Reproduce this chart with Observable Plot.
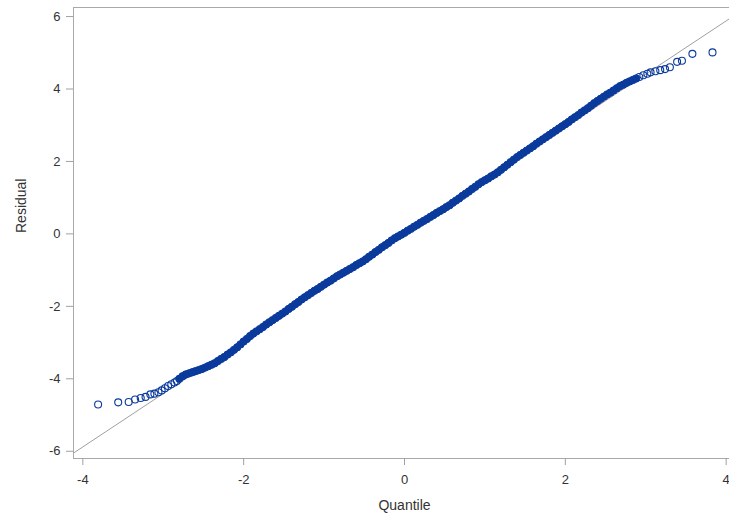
<!DOCTYPE html>
<html>
<head>
<meta charset="utf-8">
<script src="https://cdn.jsdelivr.net/npm/d3@7"></script>
<script src="https://cdn.jsdelivr.net/npm/@observablehq/plot@0.6"></script>
<style>
  html, body { margin: 0; padding: 0; background: #fff; overflow: hidden; }
  #chart { width: 729px; height: 517px; overflow: hidden; }
  #chart svg { max-width: none !important; }
</style>
</head>
<body>
<div id="chart"></div>
<script>
// Tick labels
const xTicks = [-4, -2, 0, 2, 4];
const yTicks = [-6, -4, -2, 0, 2, 4, 6];

// Dense central band of the Q-Q plot (normal quantile vs sorted residual)
const denseQuantile = [
  -2.80, -2.76, -2.72, -2.68, -2.64, -2.60, -2.56, -2.52, -2.48, -2.44,
  -2.40, -2.36, -2.32, -2.28, -2.24, -2.20, -2.16, -2.12, -2.08, -2.04,
  -2.00, -1.96, -1.92, -1.88, -1.84, -1.80, -1.76, -1.72, -1.68, -1.64,
  -1.60, -1.56, -1.52, -1.48, -1.44, -1.40, -1.36, -1.32, -1.28, -1.24,
  -1.20, -1.16, -1.12, -1.08, -1.04, -1.00, -0.96, -0.92, -0.88, -0.84,
  -0.80, -0.76, -0.72, -0.68, -0.64, -0.60, -0.56, -0.52, -0.48, -0.44,
  -0.40, -0.36, -0.32, -0.28, -0.24, -0.20, -0.16, -0.12, -0.08, -0.04,
   0.00,  0.04,  0.08,  0.12,  0.16,  0.20,  0.24,  0.28,  0.32,  0.36,
   0.40,  0.44,  0.48,  0.52,  0.56,  0.60,  0.64,  0.68,  0.72,  0.76,
   0.80,  0.84,  0.88,  0.92,  0.96,  1.00,  1.04,  1.08,  1.12,  1.16,
   1.20,  1.24,  1.28,  1.32,  1.36,  1.40,  1.44,  1.48,  1.52,  1.56,
   1.60,  1.64,  1.68,  1.72,  1.76,  1.80,  1.84,  1.88,  1.92,  1.96,
   2.00,  2.04,  2.08,  2.12,  2.16,  2.20,  2.24,  2.28,  2.32,  2.36,
   2.40,  2.44,  2.48,  2.52,  2.56,  2.60,  2.64,  2.68,  2.72,  2.76,
   2.80,  2.84,  2.88
];
const denseResidual = [
  -4.00, -3.93, -3.88, -3.85, -3.82, -3.79, -3.76, -3.73, -3.69, -3.65,
  -3.61, -3.57, -3.51, -3.45, -3.40, -3.33, -3.27, -3.20, -3.13, -3.05,
  -2.97, -2.90, -2.82, -2.75, -2.69, -2.63, -2.57, -2.50, -2.44, -2.38,
  -2.32, -2.26, -2.20, -2.14, -2.07, -2.01, -1.94, -1.88, -1.81, -1.75,
  -1.69, -1.63, -1.57, -1.52, -1.46, -1.40, -1.34, -1.29, -1.23, -1.17,
  -1.12, -1.07, -1.02, -0.97, -0.92, -0.86, -0.81, -0.76, -0.70, -0.63,
  -0.57, -0.50, -0.44, -0.37, -0.31, -0.25, -0.18, -0.12, -0.07, -0.02,
   0.03,  0.09,  0.14,  0.20,  0.25,  0.31,  0.36,  0.41,  0.47,  0.52,
   0.58,  0.63,  0.68,  0.74,  0.79,  0.86,  0.92,  0.98,  1.05,  1.11,
   1.17,  1.24,  1.30,  1.37,  1.43,  1.48,  1.53,  1.59,  1.64,  1.70,
   1.77,  1.84,  1.91,  1.98,  2.05,  2.12,  2.18,  2.24,  2.30,  2.36,
   2.42,  2.49,  2.55,  2.61,  2.67,  2.73,  2.79,  2.85,  2.91,  2.97,
   3.03,  3.09,  3.16,  3.22,  3.28,  3.35,  3.41,  3.47,  3.54,  3.61,
   3.67,  3.73,  3.79,  3.85,  3.90,  3.96,  4.02,  4.08,  4.12,  4.17,
   4.21,  4.25,  4.29
];

// Sparse tails drawn as open circles
const tailQuantile = [
  -3.81, -3.56, -3.43, -3.35, -3.28, -3.22, -3.16, -3.11, -3.06, -3.02,
  -2.98, -2.94, -2.90, -2.86, -2.83,
   2.92,  2.97,  3.02,  3.06,  3.12,  3.18,  3.24,  3.30,  3.39,  3.45,
   3.58,  3.83
];
const tailResidual = [
  -4.71, -4.65, -4.64, -4.57, -4.53, -4.50, -4.43, -4.41, -4.37, -4.32,
  -4.26, -4.20, -4.15, -4.10, -4.06,
   4.33,  4.38,  4.42,  4.46,  4.49,  4.52,  4.55,  4.60,  4.75,  4.78,
   4.97,  5.01
];

// Reference line (residual = intercept + slope * quantile)
const refIntercept = 0;
const refSlope = 1.47;

const xDomain = [-4.116, 4.116];
const yDomain = [-6.2, 6.25];

const dense = denseQuantile.map((q, i) => ({q, r: denseResidual[i]}));
const tails = tailQuantile.map((q, i) => ({q, r: tailResidual[i]}));
const refLine = [{
  x1: xDomain[0], y1: refIntercept + refSlope * xDomain[0],
  x2: xDomain[1], y2: refIntercept + refSlope * xDomain[1]
}];

const blue = "#0a3a9c";
const fmt = d => d < 0 ? "-" + Math.abs(d) : String(d);

const chart = Plot.plot({
  width: 740,
  height: 517,
  marginLeft: 73,
  marginRight: 5,
  marginTop: 7,
  marginBottom: 59,
  x: {domain: xDomain},
  y: {domain: yDomain},
  style: {fontFamily: "'Liberation Sans', Arial, sans-serif", fontSize: "13px", color: "#333", background: "#fff", maxWidth: "none"},
  marks: [
    Plot.frame({stroke: "#a9a9a9"}),
    Plot.link(refLine, {x1: "x1", y1: "y1", x2: "x2", y2: "y2", stroke: "#a0a0a0", strokeWidth: 1, clip: true}),
    Plot.dot(dense, {x: "q", y: "r", r: 3.7, fill: blue, stroke: blue, strokeWidth: 1}),
    Plot.dot(tails, {x: "q", y: "r", r: 3.5, fill: "none", stroke: blue, strokeWidth: 1.1}),
    Plot.axisX({ticks: xTicks, tickSize: 7, tickPadding: 9, label: null, stroke: "#a0a0a0", fill: "#333", fontSize: 13, tickFormat: fmt}),
    Plot.axisY({ticks: yTicks, tickSize: 7, tickPadding: 6, label: null, stroke: "#a0a0a0", fill: "#333", fontSize: 13, tickFormat: fmt}),
    Plot.text(["Quantile"], {frameAnchor: "bottom", dy: 47, lineAnchor: "middle", fontSize: 14, fill: "#333"}),
    Plot.text(["Residual"], {frameAnchor: "left", dx: -52, rotate: -90, fontSize: 14, fill: "#333"})
  ]
});
document.getElementById("chart").appendChild(chart);
</script>
</body>
</html>
